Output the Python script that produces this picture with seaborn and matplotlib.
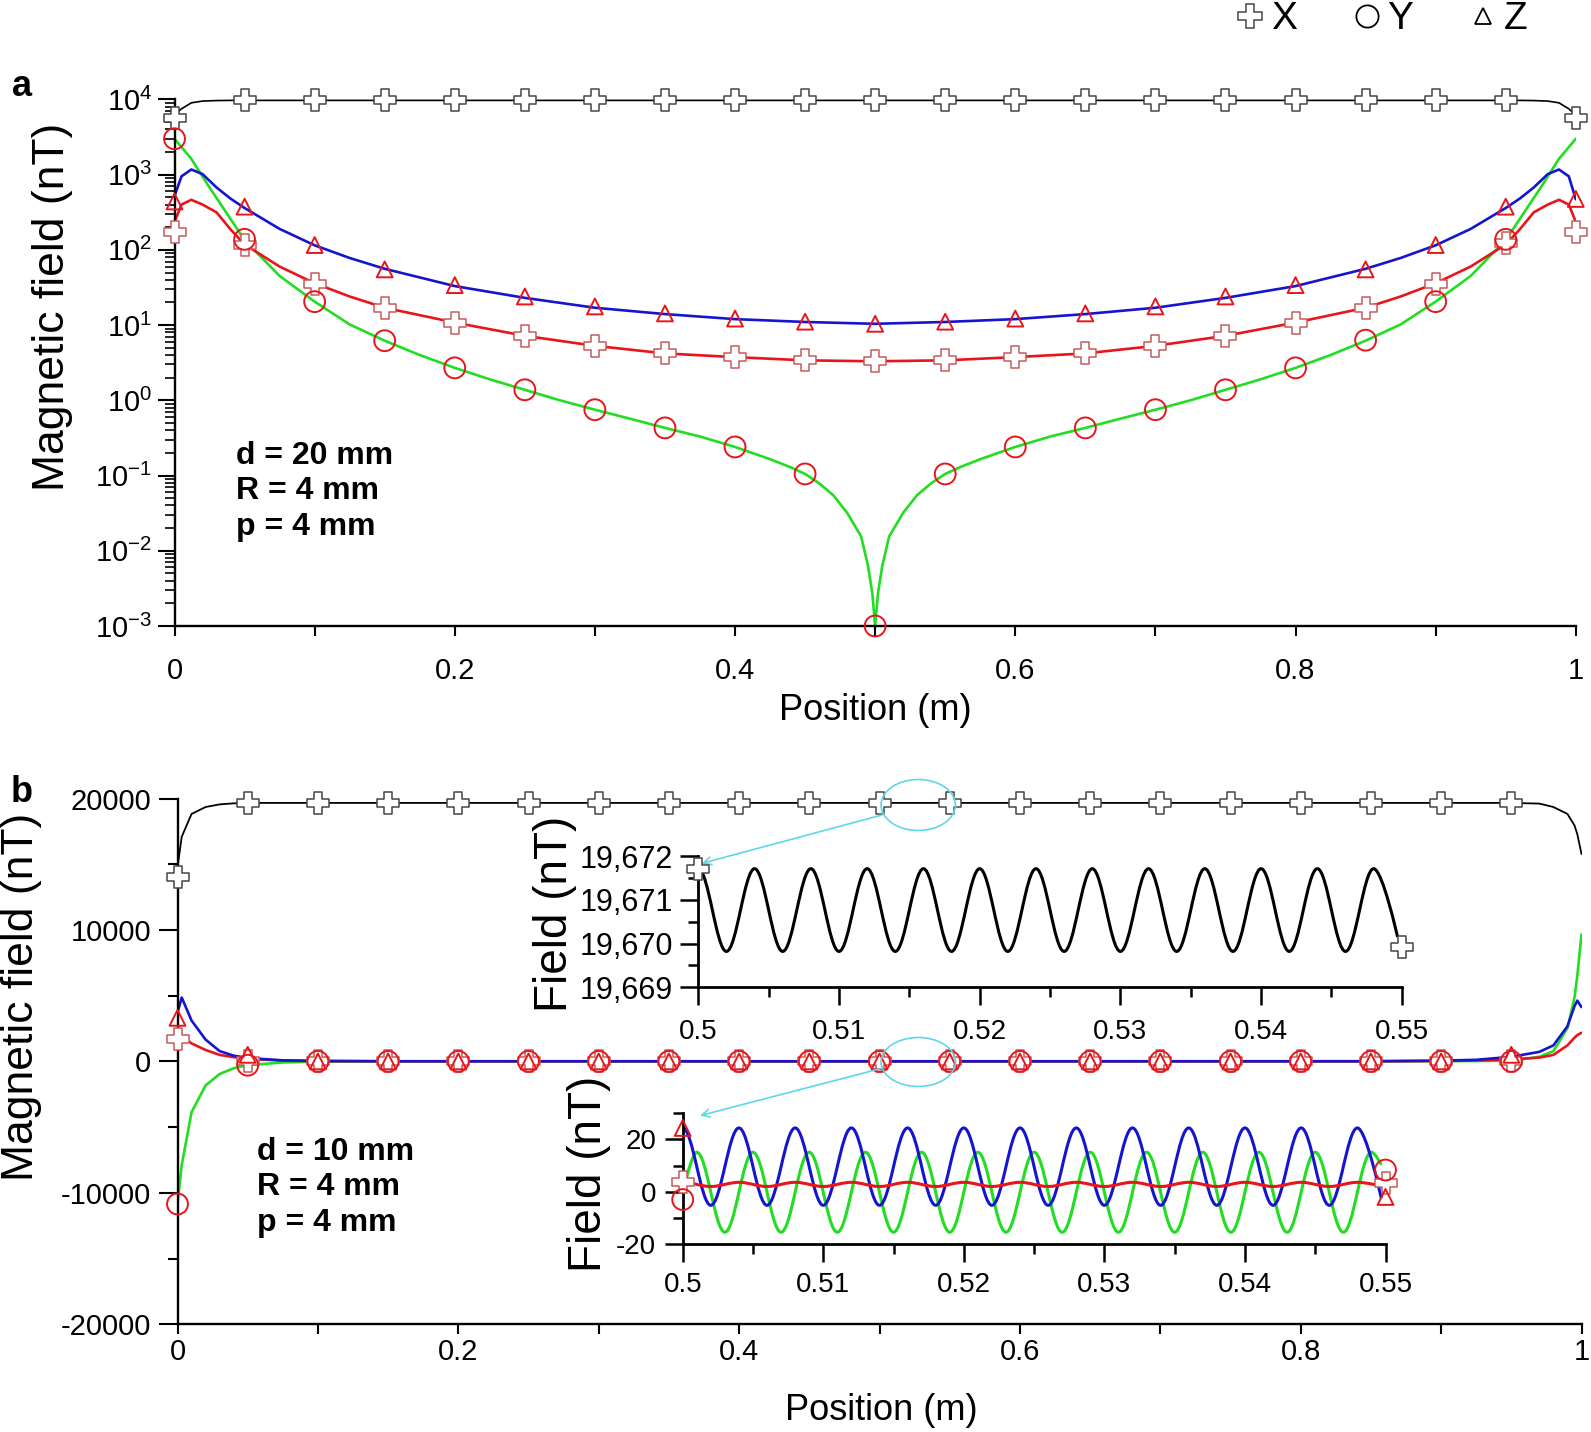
import numpy as np
import matplotlib
matplotlib.use("Agg")
import matplotlib.pyplot as plt
from matplotlib.path import Path
from matplotlib.patches import PathPatch, Ellipse
from matplotlib.lines import Line2D
from matplotlib.ticker import LogLocator, LogFormatterSciNotation, NullFormatter, MultipleLocator
import seaborn as sns

# ---------------- panel a : d = 20 mm (log scale) ----------------
pos_a = [0, 0.005, 0.012, 0.02, 0.03, 0.04, 0.05, 0.075, 0.1, 0.125, 0.15, 0.2, 0.25,
         0.3, 0.35, 0.4, 0.45, 0.5, 0.55, 0.6, 0.65, 0.7, 0.75, 0.8, 0.85, 0.875, 0.9,
         0.925, 0.95, 0.96, 0.97, 0.98, 0.988, 0.995, 1.0]
black_a = [6200, 7500, 9000, 9500, 9650, 9700, 9700, 9700, 9700, 9700, 9700, 9700, 9700,
           9700, 9700, 9700, 9700, 9700, 9700, 9700, 9700, 9700, 9700, 9700, 9700, 9700, 9700,
           9700, 9700, 9700, 9650, 9500, 9000, 7500, 6200]
blue_a = [520, 950, 1170, 1016, 675, 480, 360, 190, 115, 78, 56, 33, 23,
          17, 14, 12, 11, 10.4, 11, 12, 14, 17, 23, 33, 56, 78, 115,
          190, 360, 480, 675, 1016, 1170, 950, 470]
red_a = [235, 400, 463, 400, 315, 187, 118, 60, 36, 24, 17, 10.8, 7.2,
         5.3, 4.2, 3.75, 3.4, 3.3, 3.4, 3.75, 4.2, 5.3, 7.2, 10.8, 17, 24, 36,
         60, 118, 187, 315, 400, 463, 400, 235]
pos_green_a = [0, 0.012, 0.025, 0.05, 0.075, 0.1, 0.125, 0.15, 0.175, 0.2, 0.225, 0.25,
               0.275, 0.3, 0.325, 0.35, 0.375, 0.4, 0.425, 0.44, 0.45, 0.46, 0.47, 0.48,
               0.49, 0.495, 0.498, 0.5, 0.502, 0.505, 0.51, 0.52, 0.53, 0.54, 0.55, 0.56,
               0.575, 0.6, 0.625, 0.65, 0.675, 0.7, 0.725, 0.75, 0.775, 0.8, 0.825, 0.85,
               0.875, 0.9, 0.925, 0.95, 0.975, 0.988, 1.0]
green_a = [3000, 1620, 675, 135, 45, 20.5, 10.2, 6.2, 4.0, 2.7, 1.9, 1.38,
           1.0, 0.75, 0.57, 0.43, 0.33, 0.24, 0.165, 0.128, 0.105, 0.079, 0.055, 0.032,
           0.0155, 0.0062, 0.0027, 0.001, 0.0027, 0.0062, 0.0155, 0.032, 0.055, 0.079, 0.105, 0.128,
           0.165, 0.24, 0.33, 0.43, 0.57, 0.75, 1.0, 1.38, 1.9, 2.7, 4.0, 6.2,
           10.2, 20.5, 45, 135, 675, 1620, 3000]

mark_pos_a = [0, 0.05, 0.1, 0.15, 0.2, 0.25, 0.3, 0.35, 0.4, 0.45, 0.5,
              0.55, 0.6, 0.65, 0.7, 0.75, 0.8, 0.85, 0.9, 0.95, 1.0]
plus_black_a = [5700, 9700, 9700, 9700, 9700, 9700, 9700, 9700, 9700, 9700, 9700,
                9700, 9700, 9700, 9700, 9700, 9700, 9700, 9700, 9700, 5700]
plus_red_a = [175, 116, 35, 17, 10.8, 7.2, 5.3, 4.2, 3.75, 3.4, 3.3,
              3.4, 3.75, 4.2, 5.3, 7.2, 10.8, 17, 35, 123, 171]
circle_a = [3000, 138, 20.5, 6.2, 2.7, 1.38, 0.75, 0.43, 0.24, 0.105, 0.001,
            0.105, 0.24, 0.43, 0.75, 1.38, 2.7, 6.3, 20.5, 138]
tri_a = [440, 375, 116, 55, 34, 24, 17.7, 14.3, 12.2, 11.1, 10.4,
         11.1, 12.2, 14.3, 17.7, 24, 34, 55, 116, 375, 475]

# ---------------- panel b : d = 10 mm (linear) ----------------
pos_b = [0, 0.003, 0.01, 0.02, 0.03, 0.04, 0.05, 0.075, 0.1, 0.15, 0.5, 0.85, 0.9,
         0.925, 0.95, 0.97, 0.98, 0.99, 0.995, 0.997, 1.0]
black_b = [14760, 17090, 18830, 19360, 19560, 19640, 19671, 19671, 19671, 19671, 19671,
           19671, 19671, 19671, 19671, 19620, 19360, 18830, 17960, 17300, 15780]
blue_b = [3700, 4860, 3110, 1660, 785, 436, 260, 80, 40, 15, 10, 15, 60,
          120, 350, 727, 1220, 2676, 4200, 4625, 4130]
red_b = [2240, 1900, 1370, 870, 495, 320, 200, 60, 20, 6, 3, 6, 30,
         70, 145, 290, 495, 1220, 1800, 2000, 2180]
green_b = [-10850, -7900, -3870, -1830, -960, -520, -290, -80, -20, -5, 0, 5, 20,
           30, 58, 350, 785, 2530, 4860, 6500, 9660]

mark_pos_b = [0, 0.05, 0.1, 0.15, 0.2, 0.25, 0.3, 0.35, 0.4, 0.45,
              0.5, 0.55, 0.6, 0.65, 0.7, 0.75, 0.8, 0.85, 0.9, 0.95]
plus_black_b = [14020, 19671, 19671, 19671, 19671, 19671, 19671, 19671, 19671, 19671,
                19671, 19671, 19671, 19671, 19671, 19671, 19671, 19671, 19671, 19671]
plus_red_b = [1716, 0, 0, 0, 0, 0, 0, 0, 0, 0, 0, 0, 0, 0, 0, 0, 0, 0, 0, 0]
circle_b = [-10850, -290, 0, 0, 0, 0, 0, 0, 0, 0, 0, 0, 0, 0, 0, 0, 0, 0, 0, 0]
tri_b = [3316, 500, 0, 0, 0, 0, 0, 0, 0, 0, 0, 0, 0, 0, 0, 0, 0, 0, 0, 500]

# ---------------- insets (0.5 - 0.55 m), extrema ----------------
ext_x = [0.5, 0.502, 0.504, 0.506, 0.508, 0.51, 0.512, 0.514, 0.516, 0.518, 0.52, 0.522,
         0.524, 0.526, 0.528, 0.53, 0.532, 0.534, 0.536, 0.538, 0.54, 0.542, 0.544, 0.546,
         0.548, 0.5497]
ins_black = [19671.71, 19669.82, 19671.71, 19669.82, 19671.71, 19669.82, 19671.71, 19669.82,
             19671.71, 19669.82, 19671.71, 19669.82, 19671.71, 19669.82, 19671.71, 19669.82,
             19671.71, 19669.82, 19671.71, 19669.82, 19671.71, 19669.82, 19671.71, 19669.82,
             19671.71, 19670.15]
ins_blue = [24.4, -5.2, 24.4, -5.2, 24.4, -5.2, 24.4, -5.2, 24.4, -5.2, 24.4, -5.2, 24.4,
            -5.2, 24.4, -5.2, 24.4, -5.2, 24.4, -5.2, 24.4, -5.2, 24.4, -5.2, 24.4, -2.5]
ins_red = [3.6, 2.0, 3.6, 2.0, 3.6, 2.0, 3.6, 2.0, 3.6, 2.0, 3.6, 2.0, 3.6,
           2.0, 3.6, 2.0, 3.6, 2.0, 3.6, 2.0, 3.6, 2.0, 3.6, 2.0, 3.6, 2.2]
green_ext_x = [0.5, 0.501, 0.503, 0.505, 0.507, 0.509, 0.511, 0.513, 0.515, 0.517, 0.519,
               0.521, 0.523, 0.525, 0.527, 0.529, 0.531, 0.533, 0.535, 0.537, 0.539, 0.541,
               0.543, 0.545, 0.547, 0.549, 0.5497]
ins_green = [-0.6, 15.1, -15.5, 15.1, -15.5, 15.1, -15.5, 15.1, -15.5, 15.1, -15.5,
             15.1, -15.5, 15.1, -15.5, 15.1, -15.5, 15.1, -15.5, 15.1, -15.5, 15.1,
             -15.5, 15.1, -15.5, 15.1, 10.3]
ins_mark_x = [0.5, 0.55]
ins_plus_black = [19671.71, 19669.93]
ins_tri = [24.4, -2.0]
ins_plus_red = [3.8, 3.4]
ins_circle = [-3.0, 8.3]

xtick_pos = [0, 0.1, 0.2, 0.3, 0.4, 0.5, 0.6, 0.7, 0.8, 0.9, 1.0]
xtick_lab = ["0", "", "0.2", "", "0.4", "", "0.6", "", "0.8", "", "1"]
ytick_b = [-20000, -10000, 0, 10000, 20000]
ytick_b_lab = ["-20000", "-10000", "0", "10000", "20000"]
in_xtick = [0.5, 0.51, 0.52, 0.53, 0.54, 0.55]
in_xtick_lab = ["0.5", "0.51", "0.52", "0.53", "0.54", "0.55"]
in1_ytick = [19669, 19670, 19671, 19672]
in1_ytick_lab = ["19,669", "19,670", "19,671", "19,672"]
in2_ytick = [-20, 0, 20]
in2_ytick_lab = ["-20", "0", "20"]

BLACK = "#000000"
RED = "#e8151b"
GREEN = "#22dd22"
BLUE = "#1515d0"
PLUS_GREY = "#454545"
PLUS_RED = "#c85a5a"
CYAN = "#5fd7e6"

W, H = 1591, 1432


def wave_path(xs, ys, free_start=False):
    # smooth curve through the read extrema (horizontal tangents at peaks/troughs)
    verts = [(xs[0], ys[0])]
    codes = [Path.MOVETO]
    n = len(xs)
    for i in range(1, n):
        h = 0.36 * (xs[i] - xs[i - 1])
        c1 = (xs[i - 1], ys[i - 1]) if (i == 1 and free_start) else (xs[i - 1] + h, ys[i - 1])
        c2 = (xs[i], ys[i]) if i == n - 1 else (xs[i] - h, ys[i])
        verts += [c1, c2, (xs[i], ys[i])]
        codes += [Path.CURVE4] * 3
    return Path(verts, codes)


def markers(ax, x, y, kind, edge, size, face="none", lw=1.4):
    sns.scatterplot(x=x, y=y, ax=ax, marker=kind, s=size, facecolor=face,
                    edgecolor=edge, linewidth=lw, clip_on=False, zorder=5, legend=False)


def line(ax, x, y, color, lw):
    sns.lineplot(x=x, y=y, ax=ax, color=color, linewidth=lw, estimator=None, sort=False)


def clean(ax, lw):
    for s in ("top", "right"):
        ax.spines[s].set_visible(False)
    for s in ("left", "bottom"):
        ax.spines[s].set_linewidth(lw)
        ax.spines[s].set_color("black")


def main():
    sns.set_style("ticks", {"axes.edgecolor": "black", "xtick.color": "black",
                            "ytick.color": "black", "text.color": "black",
                            "axes.labelcolor": "black"})
    plt.rcParams["font.family"] = ["Liberation Sans", "DejaVu Sans"]
    plt.rcParams["mathtext.fontset"] = "custom"
    plt.rcParams["mathtext.rm"] = "Liberation Sans"
    plt.rcParams["mathtext.default"] = "regular"
    plt.rcParams["axes.unicode_minus"] = False

    fig = plt.figure(figsize=(W / 100, H / 100), dpi=100)

    # ---------- panel a ----------
    ax_a = fig.add_axes([174.5 / W, 1 - 626 / H, 1401.3 / W, 526.6 / H])
    ax_a.set_yscale("log")
    line(ax_a, pos_a, black_a, BLACK, 1.2)
    line(ax_a, pos_green_a, green_a, GREEN, 1.9)
    line(ax_a, pos_a, red_a, RED, 1.9)
    line(ax_a, pos_a, blue_a, BLUE, 1.9)
    markers(ax_a, mark_pos_a, plus_black_a, "P", PLUS_GREY, 250, face="white", lw=1.1)
    markers(ax_a, mark_pos_a, plus_red_a, "P", PLUS_RED, 250, face="white", lw=1.1)
    markers(ax_a, mark_pos_a[:-1], circle_a, "o", RED, 225)
    markers(ax_a, mark_pos_a, tri_a, "^", RED, 130)
    ax_a.set_xlim(0, 1)
    ax_a.set_ylim(1e-3, 1e4)
    ax_a.yaxis.set_major_locator(LogLocator(base=10, numticks=100))
    ax_a.yaxis.set_minor_locator(LogLocator(base=10, subs=np.arange(2, 10) * 1.0, numticks=100))
    ax_a.yaxis.set_major_formatter(LogFormatterSciNotation())
    ax_a.yaxis.set_minor_formatter(NullFormatter())
    ax_a.set_xticks(xtick_pos, xtick_lab)
    clean(ax_a, 1.7)
    ax_a.tick_params(axis="y", which="major", length=12, width=1.5, pad=4, labelsize=21)
    ax_a.tick_params(axis="y", which="minor", length=7, width=1.2)
    ax_a.tick_params(axis="x", which="major", length=7, width=1.5, pad=15, labelsize=21)
    ax_a.set_xlabel("Position (m)", fontsize=26)
    ax_a.xaxis.set_label_coords(0.5, -0.127)
    ax_a.set_ylabel("Magnetic field (nT)", fontsize=32)
    ax_a.yaxis.set_label_coords(-0.0724, 0.606)
    for txt, yy in zip(["d = 20 mm", "R = 4 mm", "p = 4 mm"], [455.6, 491, 526.6]):
        fig.text(236.4 / W, 1 - yy / H, txt, fontsize=23, fontweight="bold", va="center")

    # ---------- panel b ----------
    ax_b = fig.add_axes([177.5 / W, 1 - 1324.2 / H, 1404 / W, 525.6 / H])
    line(ax_b, pos_b, black_b, BLACK, 1.3)
    line(ax_b, pos_b, green_b, GREEN, 1.9)
    line(ax_b, pos_b, red_b, RED, 1.9)
    line(ax_b, pos_b, blue_b, BLUE, 1.9)
    markers(ax_b, mark_pos_b, plus_black_b, "P", PLUS_GREY, 250, face="white", lw=1.1)
    markers(ax_b, mark_pos_b, plus_red_b, "P", PLUS_RED, 250, face="white", lw=1.1)
    markers(ax_b, mark_pos_b, circle_b, "o", RED, 225)
    markers(ax_b, mark_pos_b, tri_b, "^", RED, 130)
    ax_b.set_xlim(0, 1)
    ax_b.set_ylim(-20000, 20000)
    ax_b.set_xticks(xtick_pos, xtick_lab)
    ax_b.set_yticks(ytick_b, ytick_b_lab)
    ax_b.yaxis.set_minor_locator(MultipleLocator(5000))
    clean(ax_b, 1.7)
    ax_b.tick_params(axis="y", which="major", length=14, width=1.5, pad=5, labelsize=21)
    ax_b.tick_params(axis="y", which="minor", length=7, width=1.5)
    ax_b.tick_params(axis="x", which="major", length=7, width=1.5, pad=3, labelsize=21)
    ax_b.set_xlabel("Position (m)", fontsize=26)
    ax_b.xaxis.set_label_coords(0.501, -0.131)
    ax_b.set_ylabel("Magnetic field (nT)", fontsize=32)
    ax_b.yaxis.set_label_coords(-0.0965, 0.623)
    for txt, yy in zip(["d = 10 mm", "R = 4 mm", "p = 4 mm"], [1152, 1187, 1223]):
        fig.text(257 / W, 1 - yy / H, txt, fontsize=23, fontweight="bold", va="center")

    # zoom ellipses
    for cy, hh in [(19513, 3881), (-45, 3730)]:
        ax_b.add_patch(Ellipse((0.5276, cy), 0.053, hh, fill=False, ec=CYAN, lw=1.2,
                               clip_on=False, zorder=6))

    # ---------- inset 1 (black) ----------
    ax_i1 = fig.add_axes([698.3 / W, 1 - 987.3 / H, 703.5 / W, 131.3 / H])
    ax_i1.patch.set_alpha(0)
    ax_i1.add_patch(PathPatch(wave_path(ext_x, ins_black), fc="none", ec=BLACK, lw=2.2))
    markers(ax_i1, ins_mark_x, ins_plus_black, "P", PLUS_GREY, 250, face="white", lw=1.1)
    ax_i1.set_xlim(0.5, 0.55)
    ax_i1.set_ylim(19669, 19672)
    ax_i1.set_xticks(in_xtick, in_xtick_lab)
    ax_i1.set_yticks(in1_ytick, in1_ytick_lab)
    ax_i1.xaxis.set_minor_locator(MultipleLocator(0.005))
    ax_i1.yaxis.set_minor_locator(MultipleLocator(0.5))
    clean(ax_i1, 2.0)
    ax_i1.tick_params(which="major", length=13, width=1.8, labelsize=20)
    ax_i1.tick_params(which="minor", length=7, width=1.8)
    ax_i1.tick_params(axis="x", pad=10)
    ax_i1.tick_params(axis="y", pad=5, labelsize=22)
    ax_i1.set_ylabel("Field (nT)", fontsize=33)
    ax_i1.yaxis.set_label_coords(-0.172, 0.561)
    ax_i1.annotate("", xy=(0.50024, 19671.83), xycoords="data",
                   xytext=(0.5016, 18750), textcoords=ax_b.transData,
                   arrowprops=dict(arrowstyle="->", color=CYAN, lw=1.2,
                                   shrinkA=0, shrinkB=0, mutation_scale=14))

    # ---------- inset 2 (colored) ----------
    ax_i2 = fig.add_axes([682.7 / W, 1 - 1244 / H, 702.8 / W, 130.7 / H])
    ax_i2.patch.set_alpha(0)
    ax_i2.add_patch(PathPatch(wave_path(green_ext_x, ins_green, free_start=True),
                              fc="none", ec=GREEN, lw=2.2))
    ax_i2.add_patch(PathPatch(wave_path(ext_x, ins_blue), fc="none", ec=BLUE, lw=2.2))
    ax_i2.add_patch(PathPatch(wave_path(ext_x, ins_red), fc="none", ec=RED, lw=2.2))
    markers(ax_i2, ins_mark_x, ins_plus_red, "P", PLUS_RED, 250, face="white", lw=1.1)
    markers(ax_i2, ins_mark_x, ins_circle, "o", RED, 225)
    markers(ax_i2, ins_mark_x, ins_tri, "^", RED, 130)
    ax_i2.set_xlim(0.5, 0.55)
    ax_i2.set_ylim(-20, 30)
    ax_i2.set_xticks(in_xtick, in_xtick_lab)
    ax_i2.set_yticks(in2_ytick, in2_ytick_lab)
    ax_i2.xaxis.set_minor_locator(MultipleLocator(0.005))
    ax_i2.yaxis.set_minor_locator(MultipleLocator(10))
    clean(ax_i2, 2.0)
    ax_i2.tick_params(which="major", length=13, width=1.8, labelsize=20)
    ax_i2.tick_params(which="minor", length=7, width=1.8)
    ax_i2.tick_params(axis="x", pad=7)
    ax_i2.tick_params(axis="y", pad=6)
    ax_i2.set_ylabel("Field (nT)", fontsize=33)
    ax_i2.yaxis.set_label_coords(-0.1025, 0.539)
    ax_i2.annotate("", xy=(0.50123, 29.1), xycoords="data",
                   xytext=(0.5016, -525), textcoords=ax_b.transData,
                   arrowprops=dict(arrowstyle="->", color=CYAN, lw=1.2,
                                   shrinkA=0, shrinkB=0, mutation_scale=14))

    # ---------- panel letters and legend ----------
    fig.text(22 / W, 1 - 86 / H, "a", fontsize=26, fontweight="bold", ha="center", va="center")
    fig.text(22 / W, 1 - 793 / H, "b", fontsize=26, fontweight="bold", ha="center", va="center")

    handles = [
        Line2D([], [], ls="none", marker="P", ms=17, mfc="white", mec=PLUS_GREY, mew=1.1),
        Line2D([], [], ls="none", marker="o", ms=16, mfc="none", mec="black", mew=1.3),
        Line2D([], [], ls="none", marker="^", ms=12, mfc="none", mec="black", mew=1.3),
    ]
    fig.legend(handles, ["X", "Y", "Z"], loc="upper left", bbox_to_anchor=(1234.5 / W, 0.999),
               ncol=3, frameon=False, fontsize=28, handlelength=0.8, handletextpad=0.14,
               columnspacing=1.39, borderpad=0, borderaxespad=0)

    fig.savefig("out.png", dpi=100)


if __name__ == "__main__":
    main()
